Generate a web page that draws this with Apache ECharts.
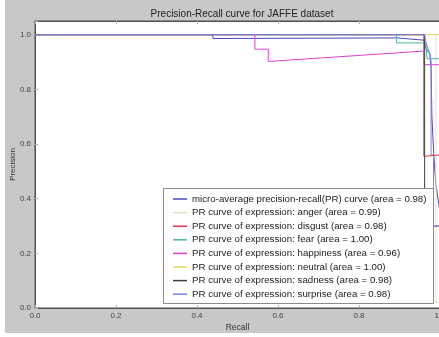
<!DOCTYPE html>
<html>
<head>
<meta charset="utf-8">
<script src="https://cdn.jsdelivr.net/npm/echarts@6/dist/echarts.min.js"></script>
<style>html,body{margin:0;padding:0;background:#fff}#c{width:439px;height:337px}</style>
</head>
<body>
<div id="c"></div>
<script>
// ---- data (recall, precision) ----
const chartTitle = 'Precision-Recall curve for JAFFE dataset';
const legendNames = [
  'micro-average precision-recall(PR) curve (area = 0.98)',
  'PR curve of expression: anger (area = 0.99)',
  'PR curve of expression: disgust (area = 0.98)',
  'PR curve of expression: fear (area = 1.00)',
  'PR curve of expression: happiness (area = 0.96)',
  'PR curve of expression: neutral (area = 1.00)',
  'PR curve of expression: sadness (area = 0.98)',
  'PR curve of expression: surprise (area = 0.98)'
];
const seriesColors = ['#4848b8', '#e2e2cc', '#e83048', '#48b8a0', '#e040d0', '#e8d860', '#404040', '#8080e8'];
const microCurve = [[0,1],[0.432,1],[0.432,0.995],[0.4395,0.995],[0.4395,0.986],[0.894,0.988],[0.895,0.984],[0.96,0.98],[0.965,0.95],[0.975,0.93],[0.978,0.88],[0.98,0.7],[0.985,0.55],[0.99,0.45],[1.0,0.35]];
const angerCurve = [[0,1],[0.99,1],[0.99,0.02],[1.0,0.02]];
const disgustCurve = [[0,1],[0.96,1],[0.96,0.555],[1.0,0.56]];
const fearCurve = [[0,1],[0.893,1],[0.893,0.97],[0.965,0.97],[0.968,0.912],[1.0,0.912]];
const happinessCurve = [[0,1],[0.543,1],[0.543,0.947],[0.576,0.947],[0.576,0.902],[0.951,0.939],[0.96,0.94],[0.96,0.89],[1.0,0.89]];
const neutralCurve = [[0,1],[1.0,1]];
const sadnessCurve = [[0,1],[0.962,1],[0.962,0.42],[0.983,0.42],[0.983,0.3],[1.0,0.3]];
const surpriseCurve = [[0,1],[0.962,1],[0.965,0.975],[0.97,0.95],[0.975,0.93],[0.978,0.9],[0.978,0.56],[0.984,0.56],[0.984,0.3],[1.0,0.3]];
const curves = [microCurve, angerCurve, disgustCurve, fearCurve, happinessCurve, neutralCurve, sadnessCurve, surpriseCurve];

const FONT = '"Liberation Sans", Arial, sans-serif';
const chart = echarts.init(document.getElementById('c'), null, {renderer: 'canvas'});
const tickFmt = v => (Math.abs(v * 5 - Math.round(v * 5)) < 1e-6 ? v.toFixed(1) : '');

chart.setOption({
  backgroundColor: '#ffffff',
  animation: false,
  title: {
    text: chartTitle, left: 237, top: 4, textAlign: 'center',
    textStyle: {fontFamily: FONT, fontSize: 10, fontWeight: 'normal', color: '#222'}
  },
  graphic: [
    {type: 'rect', z: -10, zlevel: 0, silent: true, shape: {x: 5, y: 0, width: 434, height: 333}, style: {fill: '#c8c8c8'}},
    {type: 'rect', z: 100, silent: true, shape: {x: 163.5, y: 188.5, width: 270, height: 115}, style: {fill: '#ffffff', stroke: '#8a8a8a', lineWidth: 1}}
  ],
  grid: {left: 35, top: 21, width: 405, height: 287, containLabel: false, outerBoundsMode: 'none', show: true, backgroundColor: '#ffffff', borderColor: '#505050', borderWidth: 1, z: 0},
  legend: {
    z: 200, zlevel: 0,
    orient: 'vertical', left: 173, top: 194,
    icon: 'rect', itemWidth: 14, itemHeight: 1.5, itemGap: 3.6,
    padding: 0,
    textStyle: {fontFamily: FONT, fontSize: 9.7, color: '#222', lineHeight: 10},
    data: legendNames
  },
  xAxis: [{
    type: 'value', min: 0, max: 1, interval: 0.2,
    name: 'Recall', nameLocation: 'middle', nameGap: 15, nameMoveOverlap: false,
    nameTextStyle: {fontFamily: FONT, fontSize: 8.5, color: '#333'},
    axisLine: {show: true, onZero: false, lineStyle: {color: '#505050', width: 1}},
    axisTick: {show: true, inside: true, length: 3, lineStyle: {color: '#b0b0b0'}},
    axisLabel: {fontFamily: FONT, fontSize: 8, color: '#444', margin: 4, formatter: tickFmt},
    splitLine: {show: false}
  }, {
    type: 'value', min: 0, max: 1, interval: 0.2, position: 'top',
    axisLine: {show: true, onZero: false, lineStyle: {color: '#505050', width: 1}},
    axisTick: {show: true, inside: true, length: 3, lineStyle: {color: '#b0b0b0'}},
    axisLabel: {show: false}, splitLine: {show: false}
  }],
  yAxis: {
    type: 'value', min: 0, max: 1.05, interval: 0.2,
    name: 'Precision', nameLocation: 'middle', nameGap: 18, nameRotate: 90, nameMoveOverlap: false,
    nameTextStyle: {fontFamily: FONT, fontSize: 8, color: '#333'},
    axisLine: {show: true, onZero: false, lineStyle: {color: '#505050', width: 1}},
    axisTick: {show: true, inside: true, length: 3, lineStyle: {color: '#b0b0b0'}},
    axisLabel: {fontFamily: FONT, fontSize: 8, color: '#444', margin: 4, formatter: tickFmt},
    splitLine: {show: false}
  },
  series: curves.map((d, i) => ({
    name: legendNames[i], type: 'line', data: d, xAxisIndex: 0,
    symbol: 'none', showSymbol: false, clip: true, z: 2 + i * 0.01,
    color: seriesColors[i],
    itemStyle: {color: seriesColors[i]},
    lineStyle: {color: seriesColors[i], width: 1}
  }))
});
</script>
</body>
</html>
